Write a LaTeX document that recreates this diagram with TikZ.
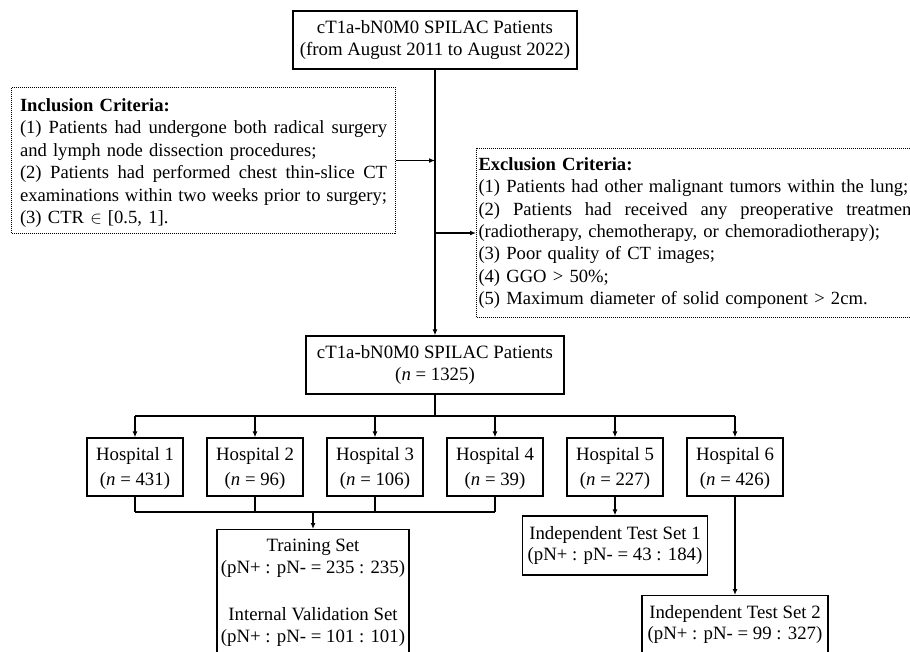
\documentclass[tikz,border=0pt]{standalone}
\usepackage{fontspec}
\setmainfont{Liberation Serif}
\usetikzlibrary{arrows.meta}
\tikzset{
  critfont/.style={font=\fontsize{18.6}{22.4}\selectfont},
  boxfont/.style={font=\fontsize{18.8}{21.5}\selectfont},
  box/.style={boxfont, draw, line width=1.3pt, align=center, inner sep=0pt},
  critbox/.style={critfont, draw, line width=1pt, dash pattern=on 1pt off 1pt, align=left, anchor=north west, inner ysep=0pt},
  conn/.style={line width=1.6pt},
  arr/.style={conn, -{Latex[length=6pt,width=5pt]}},
}
\newcommand{\jline}[2]{\leavevmode\hbox to #1{#2}}
\begin{document}
\begin{tikzpicture}[x=1pt,y=-1pt]
\useasboundingbox (0,0) rectangle (910,651);
\fill[white] (0,0) rectangle (910,651);
\clip (0,0) rectangle (910,651);

\node[box, minimum width=284, minimum height=58] (top) at (435,40)
  {cT1a-bN0M0 SPILAC Patients\\(from August 2011 to August 2022)};

\node[critbox, text width=367, inner xsep=8.5, minimum height=146] (inc) at (11,87)
  {\rule{0pt}{18pt}\textbf{Inclusion Criteria:}\\
   \jline{367pt}{(1)\hfill Patients\hfill had\hfill undergone\hfill both\hfill radical\hfill surgery}\\
   and lymph node dissection procedures;\\
   \jline{367pt}{(2)\hfill Patients\hfill had\hfill performed\hfill chest\hfill thin-slice\hfill CT}\\
   \jline{367pt}{examinations\hfill within\hfill two\hfill weeks\hfill prior\hfill to\hfill surgery;}\\
   (3) CTR $\in$ [0.5, 1].};

\node[critbox, text width=438, inner xsep=2, minimum height=169] (exc) at (476,148)
  {\textbf{Exclusion Criteria:}\\
   (1) Patients had other malignant tumors within the lung;\\
   \jline{438pt}{(2)\hfill Patients\hfill had\hfill received\hfill any\hfill preoperative\hfill treatment}\\
   (radiotherapy, chemotherapy, or chemoradiotherapy);\\
   (3) Poor quality of CT images;\\
   (4) GGO > 50\%;\\
   (5) Maximum diameter of solid component > 2cm.};

\node[box, minimum width=258, minimum height=58] (mid) at (435,365)
  {cT1a-bN0M0 SPILAC Patients\\(\textit{n} = 1325)};

\foreach \i/\n in {1/431,2/96,3/106,4/39,5/227,6/426}{
  \node[box, minimum width=96, minimum height=58] (h\i) at ({135+120*(\i-1)},467)
    {\rule{0pt}{16pt}Hospital \i\\[3pt](\textit{n} = \n)};
}

\node[box, anchor=north, minimum width=192, minimum height=126] (train) at (313,529)
  {Training Set\\(pN+ : pN- = 235 : 235)\\[26pt]Internal Validation Set\\(pN+ : pN- = 101 : 101)};
\node[box, minimum width=185, minimum height=59] (t1) at (615,545.5)
  {Independent Test Set 1\\(pN+ : pN- = 43 : 184)};
\node[box, anchor=north, minimum width=186, minimum height=58] (t2) at (735,595)
  {Independent Test Set 2\\(pN+ : pN- = 99 : 327)};

% main spine
\draw[arr] (top) -- (mid);
\coordinate (j1) at (top.south |- inc.east);
\coordinate (j2) at (top.south |- exc.west);
\draw[arr] (inc.east) -- (j1);
\draw[arr] (j2) -- (exc.west);

% distribution bus
\coordinate (bus) at (435,416);
\draw[conn] (mid) -- (bus);
\draw[conn] (h1 |- bus) -- (h6 |- bus);
\foreach \i in {1,...,6}{
  \draw[arr] (h\i |- bus) -- (h\i);
}

% collection bus
\coordinate (bus2) at (313,512);
\foreach \i in {1,...,4}{
  \draw[conn] (h\i) -- (h\i |- bus2);
}
\draw[conn] (h1 |- bus2) -- (h4 |- bus2);
\draw[arr] (bus2) -- (train);
\draw[arr] (h5) -- (t1);
\draw[arr] (h6) -- (t2);
\end{tikzpicture}
\end{document}
